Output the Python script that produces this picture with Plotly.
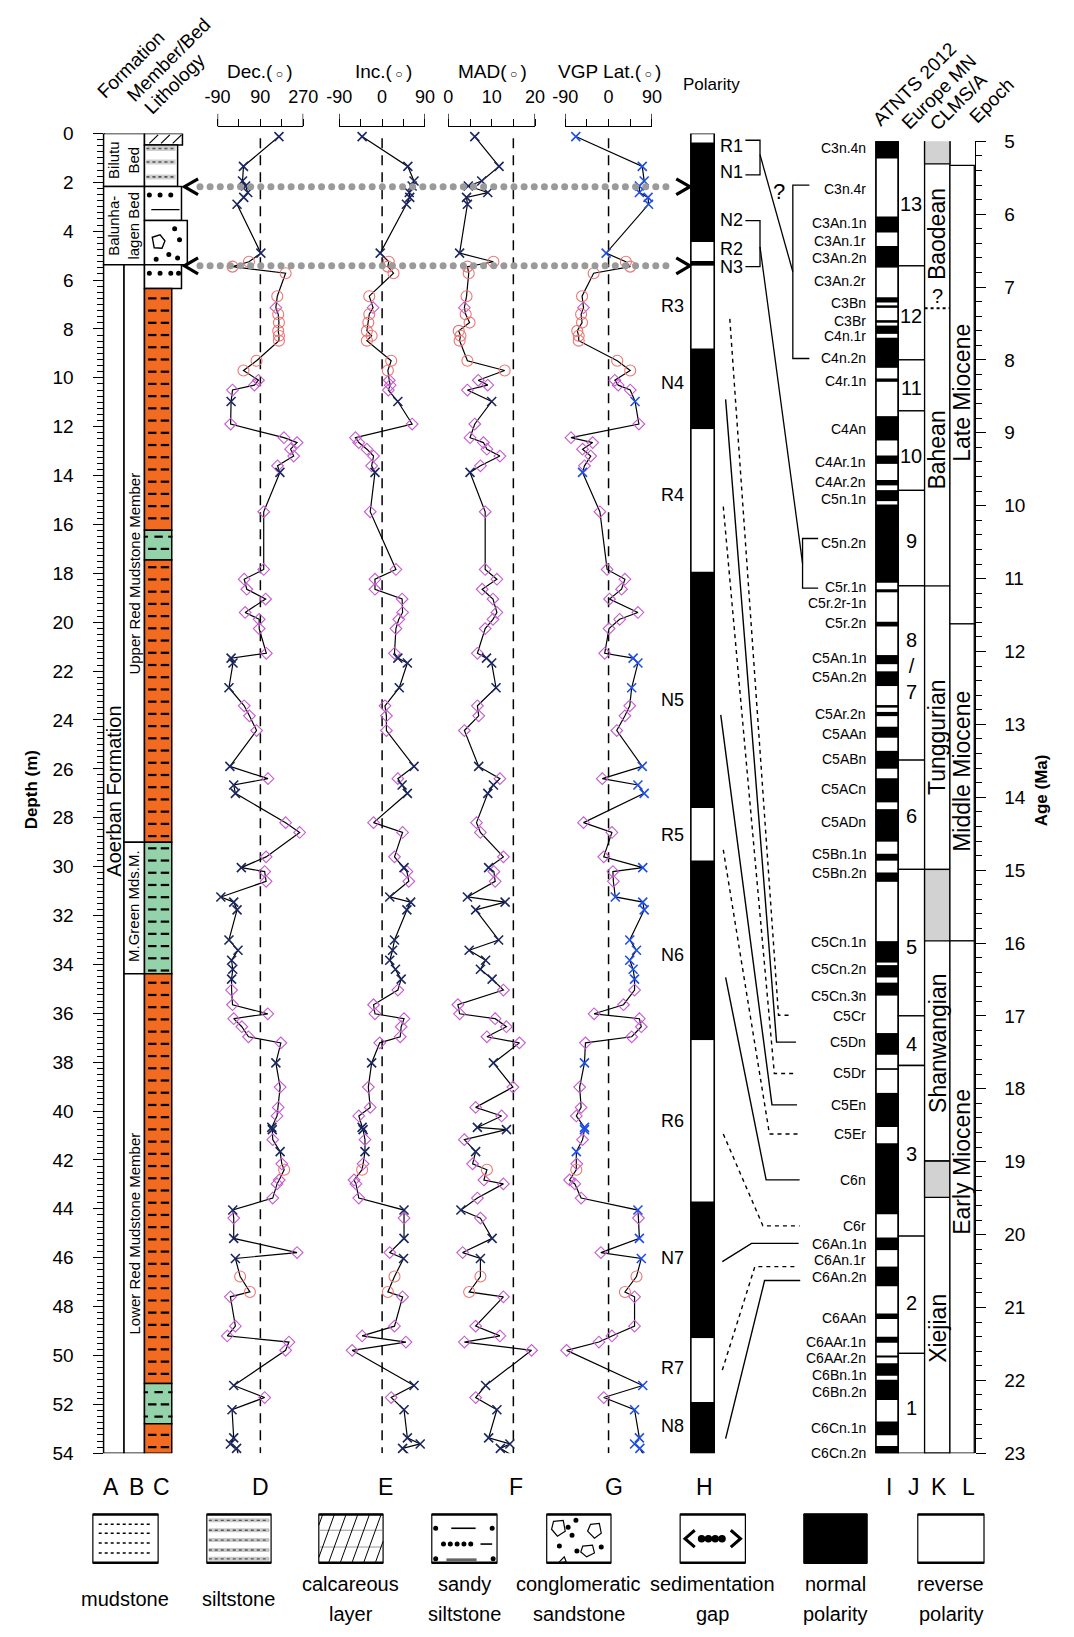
import numpy as np
import plotly.graph_objects as go

# page frame: all positions below are pixels of the 1074 x 1637 figure
W, H = 1074, 1637
FONT = "Liberation Sans, Arial, sans-serif"
NARROW = "Liberation Sans Narrow, Arial Narrow, sans-serif"


def xpaper(px):
    return px / W


def ypaper(py):
    return 1 - py / H


# ------------------------------------------------------------------ data
# palaeomagnetic samples (depth in m)
sample_depth = [0.13, 1.35, 1.95, 2.15, 2.42, 2.62, 2.9, 4.9, 5.25, 5.45,
                5.72, 6.66, 7.13, 7.4, 7.74, 8.08, 8.28, 8.48, 9.3, 9.7,
                10.1, 10.3, 10.5, 10.97, 11.89, 12.45, 12.65, 12.92, 13.2, 13.6,
                13.87, 15.48, 17.84, 18.24, 18.65, 19.05, 19.6, 19.88, 20.26, 21.27,
                21.47, 21.67, 22.68, 23.42, 23.83, 24.43, 25.9, 26.4, 26.66, 27.0,
                28.2, 28.6,
                29.6, 30.04, 30.2, 30.6, 31.24, 31.45, 31.77, 33.0, 33.42, 33.83,
                34.2, 34.6, 35.05, 35.65, 36.02, 36.22, 36.55, 36.96, 37.21, 38.03,
                39.02, 39.85, 40.2, 40.67, 40.76, 41.17, 41.66, 42.16, 42.4, 42.82,
                42.98, 43.56, 44.05, 44.38, 45.21, 45.79, 46.03, 46.77, 47.4, 47.6,
                48.8, 49.2, 49.45, 49.79, 51.23, 51.72, 52.22, 53.37, 53.62, 53.8,
                54.11]
declination = [168, 19, 15, 28, 37, 20, -8, 92, 42, -27,
               196, 161, 155, 165, 168, 165, 168, 168, 74, 19,
               82, 65, -27, -33, -35, 189, 244, 217, 230, 162,
               172, 104, 104, 22, 33, 112, 26, 85, 85, 115,
               -33, -25, -42, 22, 44, 74, -38, 122, -22, -15,
               196, 255,
               114, 10, 108, 114, -76, -22, -8, -42, -4, -31,
               -26, -31, -31, -27, 121, -22, 12, 40, 176, 155,
               173, 165, 160, 138, 140, 142, 173, 180, 190, 169,
               160, 142, -26, -22, -22, 244, -15, 5, 46, -36,
               -15, -49, 210, 196, -22, 108, -29, -22, -36, -10,
               -1]
inclination = [-42, 54, 67, 63, 57, 58, 51, -4, 14, 12,
               24, -27, -19, -27, -29, -32, -22, -32, 19, 12,
               15, 17, 13, 33, 63, -56, -49, -32, -18, -22,
               -15, -25, 29, -15, -15, 42, 43, 35, 29, 26,
               33, 53, 36, 6, 9, 9, 67, 33, 42, 53,
               -18, 43,
               26, 46, 52, 56, 16, 60, 52, 26, 22, 16,
               28, 40, 33, -18, -15, 46, 40, 38, -5, -22,
               -29, -25, -49, -42, -40, -36, -36, -40, -42, -59,
               -55, -49, 46, 46, 46, 16, 45, 26, 12, 43,
               26, -42, 50, -63, 67, 19, 46, 53, 80, 43,
               60]
mad = [6.1, 11.7, 7.7, 4.6, 9.1, 4.2, 4.4, 2.6, 10.4, 4.4,
       4.7, 4.2, 3.7, 4.0, 4.9, 2.4, 2.8, 2.6, 4.4, 13.0,
       6.9, 9.1, 4.4, 10.0, 6.1, 5.0, 8.1, 8.9, 11.9, 7.4,
       5.0, 8.5, 8.5, 11.2, 7.8, 10.3, 11.2, 10.3, 8.5, 6.7,
       8.8, 10.0, 11.0, 6.7, 7.0, 3.7, 7.0, 11.9, 10.4, 9.1,
       6.5, 7.4,
       12.7, 9.3, 10.5, 10.8, 4.4, 13.1, 6.3, 11.6, 4.8, 8.6,
       7.4, 10.1, 12.7, 2.2, 2.6, 10.8, 13.4, 8.9, 16.4, 10.4,
       14.9, 6.3, 12.3, 6.7, 13.4, 3.7, 6.3, 5.6, 8.9, 8.2,
       12.7, 6.7, 2.9, 7.4, 10.1, 3.3, 7.4, 7.4, 4.8, 12.7,
       6.3, 11.9, 3.7, 19.2, 8.6, 6.3, 11.2, 9.3, 14.2, 12.0,
       14.9]
vgp_lat = [-68, 70, 74, 64, 64, 82, 83, -5, 36, 45,
           -31, -55, -52, -57, -55, -65, -62, -62, 18, 45,
           13, 20, 45, 55, 63, -78, -33, -54, -37, -50,
           -54, -18, -3, 34, 27, 2, 61, 23, 1, -8,
           51, 61, 48, 44, 34, 17, 70, -13, 61, 74,
           -52, 7,
           -10, 71, 9, 10, 14, 71, 74, 44, 58, 44,
           51, 54, 54, 31, -30, 64, 68, 48, -48, -50,
           -60, -57, -67, -50, -50, -54, -67, -66, -67, -81,
           -70, -57, 61, 62, 64, -16, 68, 58, 34, 54,
           54, 7, -20, -87, 71, -10, 54, 64, 54, 65,
           74]
# x: line-fit direction, d: great-circle / intermediate, o: low-confidence
sample_class = list("xxxxxxxxoo" + "oodooooooo" + "dddxdddddd" + "xddddddddd" + "xxxdddxdxx" + "dd"
                    + "dxddxxxxxx" + "xxdddddddx" + "dddxxdxdod" + "ddxdxdxood" + "ddddxdxxxx" + "x")

# magnetozones: top, base (m) and polarity
zone_top = [0.0, 0.37, 4.44, 5.22, 5.42, 8.8, 12.1, 17.93, 27.6, 29.75, 37.1, 43.7, 49.3, 51.9]
zone_base = [0.37, 4.44, 5.22, 5.42, 8.8, 12.1, 17.93, 27.6, 29.75, 37.1, 43.7, 49.3, 51.9, 54.0]
zone_normal = [False, True, False, True, False, True, False, True, False, True, False, True, False, True]
zone_label_left = ["R3", "N4", "R4", "N5", "R5", "N6", "R6", "N7", "R7", "N8"]
zone_label_left_depth = [7.07, 10.2, 14.8, 23.2, 28.7, 33.6, 40.4, 46.0, 50.5, 52.9]
zone_label_right = ["R1", "N1", "N2", "R2", "N3"]
zone_label_right_depth = [0.52, 1.58, 3.55, 4.73, 5.45]

# sedimentation gaps (m)
gap_depth = [2.18, 5.42]

# lithology
lith_top = [0.0, 0.47, 2.17, 3.56, 5.37, 6.35, 16.24, 17.45, 29.0, 34.38, 51.15, 52.79]
lith_base = [0.47, 2.17, 3.56, 5.37, 6.35, 16.24, 17.45, 29.0, 34.38, 51.15, 52.79, 54.0]
lith_kind = ["calcareous", "siltstone", "sandy", "conglomerate", "sandy", "red",
             "green", "red", "green", "red", "green", "red"]

# stratigraphic units
bed_names = ["Bilutu<br>Bed", "Balunha-<br>lagen Bed"]
bed_top = [0.0, 2.17]
bed_base = [2.17, 5.37]
member_names = ["Upper Red Mudstone Member", "M.Green Mds.M.", "Lower Red Mudstone Member"]
member_top = [5.37, 29.0, 34.38]
member_base = [29.0, 34.38, 54.0]
member_label_depth = [18.0, 31.6, 45.0]
formation_name = "Aoerban Formation"
formation_top, formation_base, formation_label_depth = 5.37, 54.0, 26.9

# ATNTS 2012 normal chrons (Ma)
chron_top = [4.997, 6.033, 6.436, 7.140, 7.251, 7.454, 7.528, 7.695, 8.254, 8.771,
             9.311, 9.647, 9.786, 9.984, 11.146, 11.592, 12.049, 12.272, 12.735, 12.829,
             13.032, 13.363, 13.739, 14.163, 14.775, 15.032, 15.974, 16.303, 16.543, 17.235,
             17.717, 18.056, 18.748, 20.040, 20.439, 21.083, 21.403, 21.659, 21.767, 21.992,
             22.564, 22.902]
chron_base = [5.235, 6.252, 6.733, 7.212, 7.285, 7.489, 7.642, 8.108, 8.300, 9.105,
              9.426, 9.721, 9.937, 11.056, 11.188, 11.657, 12.174, 12.474, 12.770, 12.887,
              13.183, 13.608, 14.070, 14.609, 14.870, 15.160, 16.268, 16.472, 16.721, 17.533,
              17.740, 18.524, 19.722, 20.213, 20.709, 21.159, 21.483, 21.688, 21.936, 22.268,
              22.754, 23.0]
chron_names = ["C3n.4n", "C3n.4r", "C3An.1n", "C3An.1r", "C3An.2n", "C3An.2r", "C3Bn", "C3Br",
               "C4n.1r", "C4n.2n", "C4r.1n", "C4An", "C4Ar.1n", "C4Ar.2n", "C5n.1n", "C5n.2n",
               "C5r.1n", "C5r.2r-1n", "C5r.2n", "C5An.1n", "C5An.2n", "C5Ar.2n", "C5AAn", "C5ABn",
               "C5ACn", "C5ADn", "C5Bn.1n", "C5Bn.2n", "C5Cn.1n", "C5Cn.2n", "C5Cn.3n", "C5Cr",
               "C5Dn", "C5Dr", "C5En", "C5Er", "C6n", "C6r", "C6An.1n", "C6An.1r", "C6An.2n",
               "C6AAn", "C6AAr.1n", "C6AAr.2n", "C6Bn.1n", "C6Bn.2n", "C6Cn.1n", "C6Cn.2n"]
chron_label_age = [5.09, 5.65, 6.12, 6.37, 6.6, 6.92, 7.22, 7.47, 7.67, 7.97, 8.29, 8.95,
                   9.4, 9.68, 9.91, 10.51, 11.12, 11.34, 11.61, 12.09, 12.35, 12.86, 13.13, 13.47,
                   13.89, 14.34, 14.78, 15.04, 15.99, 16.36, 16.73, 17.0, 17.36, 17.78, 18.22, 18.62,
                   19.25, 19.88, 20.13, 20.35, 20.58, 21.14, 21.47, 21.70, 21.92, 22.16, 22.65, 22.99]

# European MN zones
mn_bounds = [4.9, 6.71, 8.0, 8.7, 9.79, 11.1, 13.49, 14.99, 17.0, 17.68, 20.02, 21.63, 23.0]
mn_names = ["13", "12", "11", "10", "9", "8<br>/<br>7", "6", "5", "4", "3", "2", "1"]
mn_label_age = [5.86, 7.4, 8.39, 9.32, 10.49, 12.2, 14.26, 16.05, 17.39, 18.9, 20.94, 22.38]

# Chinese Land Mammal Stages/Ages
clms_top = [4.9, 5.31, 7.29, 11.1, 14.99, 15.97, 18.99, 19.49]
clms_base = [5.31, 7.29, 11.1, 14.99, 15.97, 18.99, 19.49, 23.0]
clms_names = ["", "Baodean", "Bahean", "Tunggurian", "", "Shanwangian", "", "Xiejian"]
clms_label_age = [0, 6.27, 9.24, 13.17, 0, 17.38, 0, 21.29]

# epochs
epoch_top = [5.33, 11.62, 15.97]
epoch_base = [11.62, 15.97, 23.0]
epoch_names = ["Late Miocene", "Middle Miocene", "Early Miocene"]
epoch_label_age = [8.45, 13.65, 19.0]

# depth -> age correlation ties
tie_depth = [10.88, 7.59, 15.27, 23.79, 29.31, 34.53, 40.94, 46.16, 50.6, 53.4]
tie_age = [17.36, 16.99, 17.79, 18.22, 18.62, 19.25, 19.88, 20.12, 20.44, 20.63]
tie_dashed = [False, True, True, False, True, False, True, False, True, False]

# ------------------------------------------------------------------ frame
DEPTH_PX = (125, 1462)
AGE_PX = (133, 1462)
DEPTH_MAX = 54
AGE_MIN, AGE_MAX = 5, 23


def depth_px(d):
    return DEPTH_PX[0] + d / DEPTH_MAX * (DEPTH_PX[1] - DEPTH_PX[0])


def age_px(a):
    return AGE_PX[0] + (a - AGE_MIN) / (AGE_MAX - AGE_MIN) * (AGE_PX[1] - AGE_PX[0])


fig = go.Figure()
shapes = []
annotations = []


def text(x, y, s, yref="y3", size=16, angle=0, xanchor="center", yanchor="middle",
         family=FONT, color="black"):
    annotations.append(dict(x=x, y=y, xref="x5", yref=yref, text=s, showarrow=False,
                            font=dict(family=family, size=size, color=color), textangle=angle,
                            xanchor=xanchor, yanchor=yanchor))


def rect(x0, x1, y0, y1, yref, fill="white", lw=1.3, color="black", layer="below", xref="x5"):
    shapes.append(dict(type="rect", xref=xref, yref=yref, x0=x0, x1=x1, y0=y0, y1=y1,
                       fillcolor=fill, line=dict(color=color, width=lw), layer=layer))


def seg(x0, y0, x1, y1, yref, lw=1.3, color="black", dash="solid", layer="above", xref="x5"):
    shapes.append(dict(type="line", xref=xref, yref=yref, x0=x0, y0=y0, x1=x1, y1=y1,
                       line=dict(color=color, width=lw, dash=dash), layer=layer))


def path(xs, ys, yref, lw=1.3, color="black", fill="rgba(0,0,0,0)", close=False):
    d = "M " + " L ".join(f"{x},{y}" for x, y in zip(xs, ys)) + (" Z" if close else "")
    shapes.append(dict(type="path", xref="x5", yref=yref, path=d, fillcolor=fill,
                       line=dict(color=color, width=lw), layer="above"))


def marks(xs, ys, yref, symbol, size, color="black", lw=1.5, fill=None):
    fig.add_trace(go.Scatter(x=xs, y=ys, xaxis="x5", yaxis=yref, mode="markers", hoverinfo="skip",
                             cliponaxis=False,
                             marker=dict(symbol=symbol, size=size, color=fill or color,
                                         line=dict(color=color, width=lw))))


# ------------------------------------------------------------------ curve panels
X_NAVY = "#1a2660"
X_BLUE = "#1f4fe6"
DIAMOND = "#c65ccf"
CIRCLE = "#f07474"
AXIS_Y = 118

panels = [
    ("x", "xaxis", declination, (-90, 270), (210, 298), [-90, 0, 90, 180, 270],
     ["-90", "", "90", "", "270"], 90, "Dec.", 254, X_NAVY),
    ("x2", "xaxis2", inclination, (-90, 90), (335, 423), [-90, -45, 0, 45, 90],
     ["-90", "", "0", "", "90"], 0, "Inc.", 380, X_NAVY),
    ("x3", "xaxis3", mad, (0, 20), (447, 536), [0, 5, 10, 15, 20],
     ["0", "", "10", "", "20"], 15, "MAD", 492, X_NAVY),
    ("x4", "xaxis4", vgp_lat, (-90, 90), (567, 656), [-90, -45, 0, 45, 90],
     ["-90", "", "0", "", "90"], 0, "VGP Lat.", 612, X_BLUE),
]
axes_layout = {}
for xa, key, vals, rng, (p0, p1), tv, tt, ref, title, tx, xcol in panels:
    axes_layout[key] = dict(domain=[xpaper(p0), xpaper(p1)], range=list(rng), anchor="free",
                            position=ypaper(AXIS_Y), side="top", showline=True, linecolor="black",
                            linewidth=1.3, ticks="outside", ticklen=7, tickwidth=1.2,
                            tickcolor="black", tickvals=tv, ticktext=tt, ticklabelstandoff=9,
                            tickfont=dict(family=FONT, size=18, color="black"),
                            showgrid=False, zeroline=False)
    for end in rng:
        seg(end, AXIS_Y, end, AXIS_Y - 13, "y3", lw=1.3, xref=xa)
    seg(ref, 0.2, ref, 54.0, "y", lw=1.5, dash="10px,7px", xref=xa, layer="below")
    text(tx, 62, f"{title}(<span style='font-size:12px'> ○ </span>)", size=19)

    fig.add_trace(go.Scatter(x=vals, y=sample_depth, xaxis=xa, yaxis="y", mode="lines",
                             line=dict(color="black", width=1.2), cliponaxis=False, hoverinfo="skip"))
    groups = {"x": ([], []), "d": ([], []), "o": ([], [])}
    for v, d, c in zip(vals, sample_depth, sample_class):
        groups[c][0].append(v)
        groups[c][1].append(d)
    styles = {"d": ("diamond-open", 9, DIAMOND, 1.1),
              "o": ("circle-open", 11, CIRCLE, 1.1),
              "x": ("x-thin-open", 9, xcol, 1.6)}
    for c in ["d", "o", "x"]:
        sym, size, col, lw = styles[c]
        fig.add_trace(go.Scatter(x=groups[c][0], y=groups[c][1], xaxis=xa, yaxis="y", mode="markers",
                                 cliponaxis=False, hoverinfo="skip",
                                 marker=dict(symbol=sym, size=size, color=col,
                                             line=dict(color=col, width=lw))))

# ------------------------------------------------------------------ formation / member columns
A0, A1, B1 = 93, 114, 135
for t, b, name in zip(bed_top, bed_base, bed_names):
    rect(A0, B1, t, b, "y", lw=1.5)
    text((A0 + B1) / 2, (t + b) / 2, name, yref="y", size=15, angle=-90)
rect(A0, A1, formation_top, formation_base, "y", lw=1.5)
text((A0 + A1) / 2, formation_label_depth, formation_name, yref="y", size=20, angle=-90)
for t, b, name, ld in zip(member_top, member_base, member_names, member_label_depth):
    rect(A1, B1, t, b, "y", lw=1.5)
    text((A1 + B1) / 2, ld, name, yref="y", size=15, angle=-90)

# ------------------------------------------------------------------ lithology column
C0 = 135
LITH_RIGHT = {"calcareous": 174, "siltstone": 169, "sandy": 173, "conglomerate": 179, "red": 163, "green": 163}
LITH_FILL = {"calcareous": "white", "siltstone": "white", "sandy": "white", "conglomerate": "white",
             "red": "#f26b21", "green": "#94d3aa"}
dash_x, dash_y, tick_x, tick_y = [], [], [], []
for t, b, k in zip(lith_top, lith_base, lith_kind):
    r = LITH_RIGHT[k]
    rect(C0, r, t, b, "y", fill=LITH_FILL[k], lw=1.5)
    if k in ("red", "green"):
        for dep in np.arange(np.ceil(t * 4) / 4 + 0.25, b - 0.1, 0.5):
            if int(round(dep * 2)) % 2 == 0:
                dash_x += [143, 156]
                dash_y += [dep, dep]
            else:
                dash_x += [149.5]
                dash_y += [dep]
                tick_x += [136.5, 161.5]
                tick_y += [dep, dep]
    elif k == "calcareous":
        for cx in [140, 152, 164]:
            seg(cx, b - 0.06, cx + 9, t + 0.06, "y", lw=1.2)
    elif k == "siltstone":
        for dep in [0.62, 1.17, 1.78]:
            seg(C0 + 2, dep, r - 2, dep, "y", lw=5, color="#cfcfcf")
            seg(C0 + 2, dep, r - 2, dep, "y", lw=1.6, color="#555555", dash="dot")
    elif k == "sandy":
        mid = t + 0.35
        n = 3 if b - t > 1.2 else 4
        marks([140, 151, 162, 170][:n], [mid] * n, "y", "circle", 3.5)
        if b - t > 1.2:
            seg(142, t + 0.95, 171, t + 0.95, "y", lw=1.4)
    elif k == "conglomerate":
        path([143, 151, 156, 153, 145, 143], [4.25, 4.15, 4.4, 4.7, 4.68, 4.25], "y", lw=1.4, close=True)
        marks([166, 171, 160, 169, 147], [3.9, 4.35, 4.95, 5.1, 5.15], "y", "circle", 3.5)
fig.add_trace(go.Scatter(x=dash_x, y=dash_y, xaxis="x5", yaxis="y", mode="markers", hoverinfo="skip",
                         marker=dict(symbol="line-ew", size=6, line=dict(color="black", width=2.2))))
fig.add_trace(go.Scatter(x=tick_x, y=tick_y, xaxis="x5", yaxis="y", mode="markers", hoverinfo="skip",
                         marker=dict(symbol="line-ew", size=3, line=dict(color="black", width=2))))

# ------------------------------------------------------------------ sedimentation gaps
for g in gap_depth:
    dots_x = list(np.arange(192, 679, 10.4))
    fig.add_trace(go.Scatter(x=dots_x, y=[g] * len(dots_x), xaxis="x5", yaxis="y", mode="markers",
                             hoverinfo="skip", cliponaxis=False,
                             marker=dict(symbol="circle", size=7, color="#9a9a9a")))
    half = 8 / (DEPTH_PX[1] - DEPTH_PX[0]) * DEPTH_MAX
    for xs in ([190, 176, 190], [681, 695, 681]):
        fig.add_trace(go.Scatter(x=xs, y=[g - half, g, g + half], xaxis="x5", yaxis="y", mode="lines",
                                 hoverinfo="skip", cliponaxis=False,
                                 line=dict(color="black", width=3.2)))

# ------------------------------------------------------------------ polarity column
P0, P1 = 696, 720
for t, b, n in zip(zone_top, zone_base, zone_normal):
    rect(P0, P1, t, b, "y", fill="black" if n else "white", lw=0, layer="above")
rect(P0, P1, 0, 54, "y", fill="rgba(0,0,0,0)", lw=1.6, layer="above")
for name, d in zip(zone_label_left, zone_label_left_depth):
    text(691, d, name, yref="y", size=18, xanchor="right")
for name, d in zip(zone_label_right, zone_label_right_depth):
    text(724, d, name, yref="y", size=18, xanchor="left")

# brackets grouping the uppermost zones
for ya, yb in ((0.28, 1.70), (3.57, 5.45)):
    path([752, 767, 767, 752], [depth_px(ya), depth_px(ya), depth_px(yb), depth_px(yb)], "y3")
for a0, a1, xb, xe in ((5.6, 7.98, 800.7, 817.7), (10.45, 11.13, 810.7, 826.7)):
    path([xe, xb, xb, xe], [age_px(a0), age_px(a0), age_px(a1), age_px(a1)], "y3")
seg(767, depth_px(0.87), 800.7, age_px(6.79), "y3")
seg(767, depth_px(4.64), 810.7, age_px(10.79), "y3")
text(786, 184, "?", size=22)

# depth -> age ties
tie_start_x = [731.7, 736, 729.3, 726.7, 729.3, 731.7, 729.3, 728.3, 728.3, 731.7]
tie_bend_x = [784, 786, 781.7, 779.3, 776.7, 773.3, 770, 758.3, 761.7, 771.7]
tie_end_x = [804, 800, 803, 805, 808, 807.7, 807.7, 806.7, 805, 808.3]
for d, a, dashed, xs, xb, xe in zip(tie_depth, tie_age, tie_dashed, tie_start_x, tie_bend_x, tie_end_x):
    fig.add_trace(go.Scatter(x=[xs, xb, xe], y=[depth_px(d), age_px(a), age_px(a)], xaxis="x5",
                             yaxis="y3", mode="lines", hoverinfo="skip",
                             line=dict(color="black", width=1.4, dash="4px,4px" if dashed else "solid")))

# ------------------------------------------------------------------ time scale columns
I0, I1, J1, K1, L1 = 886, 909, 936, 962, 987
rect(I0, I1, 4.997, 23.0, "y2", lw=1.3)
for t, b in zip(chron_top, chron_base):
    rect(I0, I1, t, b, "y2", fill="black", lw=0)
rect(I0, I1, 4.997, 23.0, "y2", fill="rgba(0,0,0,0)", lw=1.3, layer="above")
for name, a in zip(chron_names, chron_label_age):
    text(878, a, name, yref="y2", size=14, xanchor="right")

for t, b, name, la in zip(mn_bounds[:-1], mn_bounds[1:], mn_names, mn_label_age):
    rect(I1, J1, t, b, "y2", lw=1.3)
    text((I1 + J1) / 2, la, name, yref="y2", size=20)

rect(J1, K1, 4.9, 23.0, "y2", lw=1.3)
for t, b, name, la in zip(clms_top, clms_base, clms_names, clms_label_age):
    if name == "":
        rect(J1, K1, t, b, "y2", fill="#d2d2d2", lw=1.3)
    else:
        if name != "Baodean":
            seg(J1, b, K1, b, "y2")
        text((J1 + K1) / 2, la, name, yref="y2", size=23, angle=-90)
seg(J1, 7.29, K1, 7.29, "y2", lw=2, dash="dot")
text(949, 7.12, "?", yref="y2", size=20)

for t, b, name, la in zip(epoch_top, epoch_base, epoch_names, epoch_label_age):
    rect(K1, L1, t, b, "y2", lw=1.3)
    text((K1 + L1) / 2, la, name, yref="y2", size=23, angle=-90)

# ------------------------------------------------------------------ headers
for s, x, y in (("Formation", 121, 55), ("Member/Bed", 160, 50), ("Lithology", 166, 74)):
    text(x, y, s, size=19, angle=-45)
for s, x, y in (("ATNTS 2012", 925, 75), ("Europe MN", 951, 83), ("CLMS/A", 971, 93), ("Epoch", 1005, 92)):
    text(x, y, s, size=19, angle=-45)
text(717, 75, "Polarity", size=17)
text(19, 790, "<b>Depth (m)</b>", size=17, angle=-90)
text(1056, 790, "<b>Age (Ma)</b>", size=17, angle=-90)

for s, x in (("A", 101), ("B", 127), ("C", 152), ("D", 254), ("E", 382), ("F", 516), ("G", 617),
             ("H", 710), ("I", 899), ("J", 925), ("K", 951), ("L", 981)):
    text(x, 1496, s, size=23, family=NARROW)

# ------------------------------------------------------------------ legend
LY0, LY1 = 1524, 1573
legend_boxes = [(82, 149), (199, 265), (314, 380), (430, 497), (548, 614), (685, 752), (812, 877), (929, 997)]
legend_labels = [["mudstone"], ["siltstone"], ["calcareous", "layer"], ["sandy", "siltstone"],
                 ["conglomeratic", "sandstone"], ["sedimentation", "gap"], ["normal", "polarity"],
                 ["reverse", "polarity"]]
for i, ((x0, x1), lab) in enumerate(zip(legend_boxes, legend_labels)):
    rect(x0, x1, LY0, LY1, "y3", fill="black" if i == 6 else "white", lw=1.2)
    seg(x0, LY0, x1, LY0, "y3", lw=2.6)
    seg(x0, LY1, x1, LY1, "y3", lw=2.6)
    cx = (x0 + x1) / 2
    if len(lab) == 1:
        text(cx, 1610, lab[0], size=20, family=NARROW)
    else:
        text(cx, 1594, lab[0], size=20, family=NARROW)
        text(cx, 1625, lab[1], size=20, family=NARROW)

# mudstone
for yy in (1534, 1543, 1553, 1563):
    seg(88, yy, 143, yy, "y3", lw=1.5, dash="dot")
# siltstone
for yy in (1530, 1540, 1550, 1560, 1569):
    seg(201, yy, 263, yy, "y3", lw=4, color="#c9c9c9")
    seg(201, yy, 263, yy, "y3", lw=1.4, color="#555555", dash="dot")
# calcareous layer
for yy in (1540, 1557):
    seg(315, yy, 379, yy, "y3", lw=1, color="#999999")
for x0 in range(300, 384, 12):
    xa, ya, xb, yb = x0, LY1, x0 + 18, LY0
    if xa < 314:
        ya = LY1 - (314 - xa) * (LY1 - LY0) / 18
        xa = 314
    if xb > 380:
        yb = LY0 + (xb - 380) * (LY1 - LY0) / 18
        xb = 380
    seg(xa, ya, xb, yb, "y3", lw=1)
# sandy siltstone
marks([434, 492, 442, 449, 456, 463, 470, 434, 493], [1538, 1538, 1554, 1554, 1554, 1554, 1554, 1569, 1569],
      "y3", "circle", 3.5)
seg(450, 1538, 475, 1538, "y3", lw=1.6)
seg(480, 1554, 492, 1554, "y3", lw=1.6)
seg(445, 1570, 476, 1570, "y3", lw=3, color="#666666")
# conglomeratic sandstone
path([555, 565, 567, 559, 553, 555], [1531, 1530, 1541, 1546, 1539, 1531], "y3", lw=1.2, close=True)
path([593, 602, 604, 597, 590, 593], [1534, 1533, 1543, 1548, 1541, 1534], "y3", lw=1.2, close=True)
path([585, 595, 597, 589, 583, 585], [1556, 1555, 1563, 1567, 1562, 1556], "y3", lw=1.2, close=True)
path([560, 566, 568, 561], [1573, 1567, 1572, 1573], "y3", lw=1.2)
marks([578, 574, 561, 579, 604, 570], [1530, 1545, 1556, 1561, 1557, 1537], "y3", "circle", 3.5)
# sedimentation gap
path([700, 690, 700], [1540, 1548.5, 1557], "y3", lw=3)
path([737, 747, 737], [1540, 1548.5, 1557], "y3", lw=3)
marks([707, 714, 721, 728], [1548.5] * 4, "y3", "circle", 6)

# ------------------------------------------------------------------ axes
axes_layout.update(
    yaxis=dict(domain=[ypaper(DEPTH_PX[1]), ypaper(DEPTH_PX[0])], range=[DEPTH_MAX, 0],
               anchor="free", position=xpaper(A0), side="left", showline=True, linecolor="black",
               linewidth=1.3, ticks="outside", ticklen=10, tickwidth=1.2, tickcolor="black",
               tick0=0, dtick=2, ticklabelstandoff=16,
               minor=dict(ticks="outside", ticklen=6, tick0=0, dtick=0.25, tickcolor="black", tickwidth=1),
               tickfont=dict(family=FONT, size=19, color="black"), showgrid=False, zeroline=False),
    yaxis2=dict(domain=[ypaper(AGE_PX[1]), ypaper(AGE_PX[0])], range=[AGE_MAX, AGE_MIN],
                anchor="free", position=xpaper(988), side="right", showline=True, linecolor="black",
                linewidth=1.3, ticks="outside", ticklen=10, tickwidth=1.2, tickcolor="black",
                tick0=5, dtick=1, ticklabelstandoff=14,
                minor=dict(ticks="outside", ticklen=6, tick0=5, dtick=0.2, tickcolor="black", tickwidth=1),
                tickfont=dict(family=FONT, size=19, color="black"), showgrid=False, zeroline=False),
    yaxis3=dict(domain=[0, 1], range=[H, 0], visible=False, anchor="x5"),
    xaxis5=dict(domain=[0, 1], range=[0, W], visible=False, anchor="y3"),
)

fig.update_layout(width=W, height=H, autosize=False, margin=dict(l=0, r=0, t=0, b=0),
                  paper_bgcolor="white", plot_bgcolor="rgba(0,0,0,0)", showlegend=False,
                  shapes=shapes, annotations=annotations, **axes_layout)
fig.write_html("out.html")
